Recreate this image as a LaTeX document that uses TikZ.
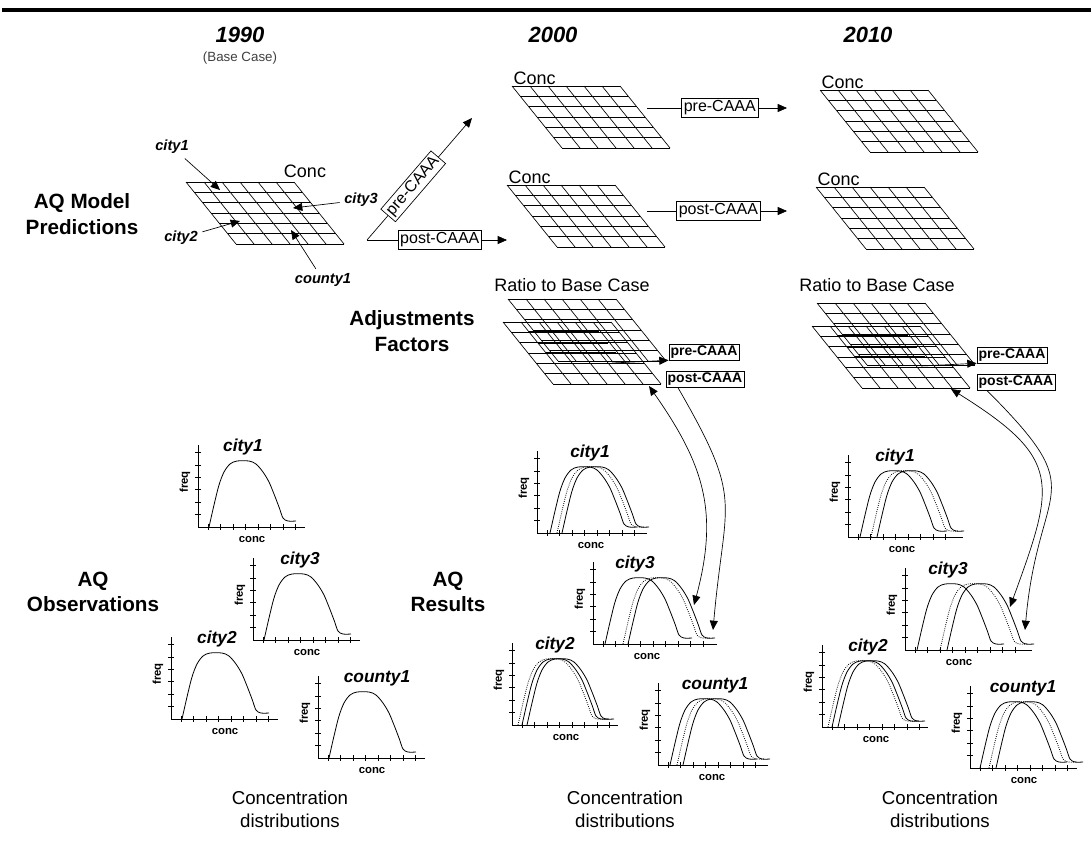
\documentclass[tikz,border=0pt]{standalone}
\usepackage{fontspec}
\setmainfont{Liberation Sans}
\usetikzlibrary{arrows.meta,positioning,calc}

% 6x6 slanted grid, #1 name, (#2,#3) top left corner
\newcommand{\concgrid}[3]{%
  \begin{scope}[shift={(#2,#3)}]
    \coordinate (#1) at (0,0);
    \foreach \r in {0,...,6}
      \draw[gridline] ({\r*50/6},{\r*62/6}) -- ++(108,0);
    \foreach \c in {0,...,6}
      \draw[gridline] ({\c*18},0) -- ++(50,62);
  \end{scope}}

% two grids on top of each other with the bold middle rows
\newcommand{\ratiogrid}[3]{%
  \concgrid{#1a}{#2}{#3}
  \concgrid{#1b}{#2-5}{#3+23}
  \begin{scope}[shift={(#2-5,#3+23)}]
    \foreach \r in {1,2,3}
      \draw[thickgrid] ({\r*50/6+18},{\r*62/6}) -- ++(70,0);
  \end{scope}}

% frequency plot: name, x, y, title, title offset, axis length, curves
\newcommand{\distplot}[7]{%
  \begin{scope}[shift={(#2,#3)}]
    \coordinate (#1) at (0,0);
    \draw[axisln] (0,-82) -- (0,0) -- (#6,0);
    \foreach \k in {1,...,6}
      \draw[axisln] (-3,{-12.4*\k}) -- (3,{-12.4*\k});
    \pgfmathtruncatemacro{\nt}{(#6-3)/12.5}
    \foreach \k in {1,...,\nt}
      \draw[axisln] ({12.5*\k-2.5},-3) -- ({12.5*\k-2.5},3);
    \node[ptitle] (#1-t) at (#5,-80) {#4};
    \node[axlabel,rotate=90] (#1-f) at (-13,-45) {freq};
    \node[axlabel] (#1-c) at (54,12) {conc};
    \foreach \s/\st in {#7}
      \draw[curve,\st,shift={(\s,0)}] plot[smooth] coordinates {(10,0) (15,-22)
        (20,-42) (25,-55) (31,-63) (38,-66) (50,-66) (57,-63) (64,-55) (70,-45)
        (75,-33) (80,-20) (84,-9) (89,-6) (97,-6)};
  \end{scope}}

\begin{document}
\begin{tikzpicture}[x=0.75pt,y=-0.75pt,
  gridline/.style={line width=0.5pt},
  thickgrid/.style={line width=1.4pt},
  axisln/.style={line width=0.6pt},
  curve/.style={line width=0.6pt},
  sol/.style={solid},
  dot/.style={densely dotted},
  arr/.style={-{Triangle[length=7pt,width=6pt]},line width=0.5pt},
  twoarr/.style={{Triangle[length=7pt,width=6pt]}-{Triangle[length=7pt,width=6pt]},line width=0.5pt},
  tag/.style={draw,line width=0.5pt,fill=white,inner sep=1.8pt,
    font=\fontsize{12}{14}\selectfont},
  rtag/.style={draw,line width=0.5pt,fill=white,inner sep=1.2pt,
    font=\bfseries\fontsize{10.5}{12}\selectfont},
  rowlabel/.style={align=center,font=\bfseries\fontsize{15.5}{19}\selectfont},
  year/.style={font=\bfseries\itshape\fontsize{16.5}{19}\selectfont},
  gridtitle/.style={font=\fontsize{13.5}{16}\selectfont},
  site/.style={font=\bfseries\itshape\fontsize{11}{13}\selectfont},
  ptitle/.style={font=\bfseries\itshape\fontsize{13}{15}\selectfont},
  axlabel/.style={font=\bfseries\fontsize{8.5}{10}\selectfont},
  distcap/.style={align=center,font=\fontsize{14}{17}\selectfont}]
\useasboundingbox (0,0) rectangle (1091,840);
\draw[line width=3pt] (2,10) -- (1091,10);

% column and row headings
\node[year] (y90) at (240,35) {1990};
\node[font=\fontsize{10}{12}\selectfont,text=black!75,below=0pt of y90] (base) {(Base Case)};
\node[year] (y00) at (553,35) {2000};
\node[year] (y10) at (868,35) {2010};
\node[rowlabel] (model) at (82,214) {AQ Model\\Predictions};
\node[rowlabel] (adjust) at (412,331) {Adjustments\\Factors};
\node[rowlabel] (obs) at (93,592) {AQ\\Observations};
\node[rowlabel] (res) at (448,592) {AQ\\Results};

% model predictions
\concgrid{g90}{186}{182}
\node[gridtitle] (conc90) at (305,171) {Conc};
\node[site] (l-city1) at (172,147) {city1};
\node[site] (l-city3) at (361,200) {city3};
\node[site] (l-city2) at (181,238) {city2};
\node[site] (l-county1) at (323,280) {county1};
\draw[arr] (l-city1) -- ($(g90)+(34,8)$);
\draw[arr] (l-city3) -- ($(g90)+(107,26)$);
\draw[arr] (l-city2) -- ($(g90)+(54,39)$);
\draw[arr] (l-county1) -- ($(g90)+(105,48)$);

\concgrid{g00a}{512}{86}
\node[gridtitle,anchor=south west,inner sep=1pt] (conc00a) at (g00a) {Conc};
\concgrid{g00b}{507}{185}
\node[gridtitle,anchor=south west,inner sep=1pt] (conc00b) at (g00b) {Conc};
\concgrid{g10a}{820}{90}
\node[gridtitle,anchor=south west,inner sep=1pt] (conc10a) at (g10a) {Conc};
\concgrid{g10b}{816}{187}
\node[gridtitle,anchor=south west,inner sep=1pt] (conc10b) at (g10b) {Conc};

\coordinate (split) at (367,240);
\draw[arr] (split) -- node[tag,sloped,pos=0.44] (pre90) {pre-CAAA} (472,118);
\draw[arr] (split) -- node[tag,pos=0.52] (post90) {post-CAAA} (507,240);
\coordinate (g00a-out) at (647,108);
\coordinate (g00b-out) at (647,211);
\draw[arr] (g00a-out) -- node[tag,pos=0.52] (pre00) {pre-CAAA} (787,108);
\draw[arr] (g00b-out) -- node[tag,pos=0.51] (post00) {post-CAAA} (787,211);

% adjustment factors
\node[gridtitle] (ratio00) at (572,285) {Ratio to Base Case};
\ratiogrid{r00}{508}{299}
\node[rtag] (pre00r) at (704,352) {pre-CAAA};
\node[rtag] (post00r) at (705,379) {post-CAAA};
\draw[arr] (612,363) -- (pre00r.south west);

\node[gridtitle] (ratio10) at (877,285) {Ratio to Base Case};
\ratiogrid{r10}{817}{303}
\node[rtag] (pre10r) at (1012,355) {pre-CAAA};
\node[rtag] (post10r) at (1016,382) {post-CAAA};
\draw[arr] (921,366) -- (pre10r.south west);

% observed distributions
\distplot{o-city1}{198}{527}{city1}{45}{107}{1/sol}
\distplot{o-city3}{253}{640}{city3}{47}{107}{1/sol}
\distplot{o-city2}{171}{719}{city2}{46}{107}{1/sol}
\distplot{o-county1}{318}{758}{county1}{59}{107}{1/sol}
\node[distcap] (cap90) at (290,809) {Concentration\\distributions};

% adjusted distributions
\distplot{a-city1}{537}{533}{city1}{53}{110}{3/sol,10/dot,15/sol}
\distplot{a-city3}{593}{644}{city3}{42}{124}{2/sol,20/dot,25/sol}
\distplot{a-city2}{512}{725}{city2}{43}{106}{-4/dot,0/sol,5/sol}
\distplot{a-county1}{658}{765}{county1}{57}{110}{2/sol,9/dot,15/sol}
\node[distcap] (cap00) at (625,809) {Concentration\\distributions};

\distplot{b-city1}{848}{537}{city1}{47}{115}{2/sol,13/dot,19/sol}
\distplot{b-city3}{905}{650}{city3}{43}{127}{2/sol,25/dot,32/sol}
\distplot{b-city2}{822}{727}{city2}{46}{106}{-4/dot,0/sol,6/sol}
\distplot{b-county1}{970}{768}{county1}{53}{107}{0/sol,9/dot,16/sol}
\node[distcap] (cap10) at (940,809) {Concentration\\distributions};

% factors applied to city3
\draw[twoarr] (649,386) to[out=-55,in=75,looseness=1.1] ($(a-city3)+(101,-39)$);
\draw[arr] ($(post00r.south west)+(12,0)$) to[out=-60,in=85,looseness=1.4]
  ($(a-city3)+(120,-14)$);
\draw[twoarr] (951,389) to[out=-32,in=70,looseness=1.5] ($(b-city3)+(105,-43)$);
\draw[arr] ($(post10r.south west)+(10,0)$) to[out=-45,in=85,looseness=1.6]
  ($(b-city3)+(120,-20)$);
\end{tikzpicture}
\end{document}
